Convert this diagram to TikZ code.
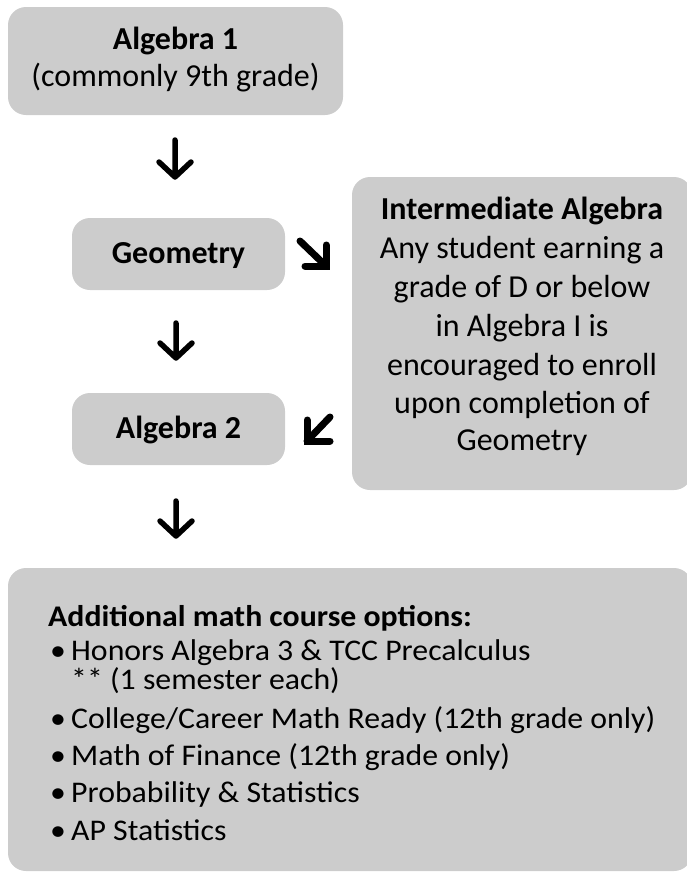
\documentclass[tikz,border=0pt]{standalone}
\usepackage{fontspec}
\setmainfont{Carlito}
\newfontfamily\lstfont[FakeStretch=1.06]{Carlito}
\definecolor{boxgray}{HTML}{CCCCCC}
\newcommand{\blt}{\makebox[21pt][l]{\textbullet}}
\begin{document}
\begin{tikzpicture}[x=1pt,y=-1pt,
  box/.style={fill=boxgray, draw=none, rounded corners=18pt, inner sep=0pt},
  big/.style={inner sep=0pt, anchor=base, font=\fontsize{32}{38}\selectfont},
  bigb/.style={big, font=\fontsize{32}{38}\selectfont\bfseries},
  lst/.style={inner sep=0pt, anchor=base west, align=left, font=\lstfont\fontsize{30}{25}\selectfont},
  lstb/.style={lst, font=\lstfont\fontsize{30}{25}\selectfont\bfseries},
  downarr/.style={line width=5.5pt, line cap=round, line join=round},
  diagarr/.style={line width=7pt, line cap=round, line join=miter}]
\useasboundingbox (0,0) rectangle (687,873);
\clip (0,0) rectangle (687,873);
% boxes
\node[box, minimum width=335pt, minimum height=108pt] (alg1) at (175.5,61) {};
\node[box, minimum width=213pt, minimum height=72pt] (geom) at (178.5,254) {};
\node[box, minimum width=213pt, minimum height=72pt] (alg2) at (178.5,429) {};
\node[box, minimum width=340pt, minimum height=313pt] (inter) at (522,333.5) {};
\node[box, minimum width=684pt, minimum height=303pt] (more) at (350,719.5) {};
% texts
\node[bigb] (t1a) at (175.5,49) {Algebra 1};
\node[big] (t1b) at (175.5,86) {(commonly 9th grade)};
\node[bigb] (tg) at (178.5,263) {Geometry};
\node[bigb] (ta2) at (178.5,438) {Algebra 2};
\node[bigb] (ti1) at (522,219) {Intermediate Algebra};
\node[big] (ti2) at (522,258) {Any student earning a};
\node[big] (ti3) at (522,297) {grade of D or below};
\node[big] (ti4) at (522,336) {in Algebra I is};
\node[big] (ti5) at (522,375) {encouraged to enroll};
\node[big] (ti6) at (522,413) {upon completion of};
\node[big] (ti7) at (522,450) {Geometry};
\node[lstb] (m0) at (48,626) {Additional math course options:};
\node[lst] (m1) at (50,689) {\blt Honors Algebra 3 \& TCC Precalculus\\\phantom{\blt}** (1 semester each)};
\node[lst] (m2) at (50,728) {\blt College/Career Math Ready (12th grade only)};
\node[lst] (m3) at (50,765) {\blt Math of Finance (12th grade only)};
\node[lst] (m4) at (50,802) {\blt Probability \& Statistics};
\node[lst] (m5) at (50,840) {\blt AP Statistics};
% arrows
\coordinate (a1s) at (175,140); \coordinate (a1e) at (175,177);
\draw[downarr] (a1s) -- (a1e) (a1e) -- ++(-16,-15) (a1e) -- ++(16,-15);
\coordinate (a2s) at (176,323); \coordinate (a2e) at (176,358);
\draw[downarr] (a2s) -- (a2e) (a2e) -- ++(-16,-15) (a2e) -- ++(16,-15);
\coordinate (a3s) at (176,501); \coordinate (a3e) at (176,536);
\draw[downarr] (a3s) -- (a3e) (a3e) -- ++(-16,-15) (a3e) -- ++(16,-15);
\coordinate (se1) at (300,241); \coordinate (se2) at (326,266);
\draw[diagarr] (se1) -- (se2);
\draw[diagarr] ([xshift=-21pt]se2) -- (se2) -- ([yshift=21pt]se2);
\coordinate (sw1) at (330,417); \coordinate (sw2) at (307,441);
\draw[diagarr] (sw1) -- (sw2);
\draw[diagarr] ([xshift=23pt]sw2) -- (sw2) -- ([yshift=21pt]sw2);
\end{tikzpicture}
\end{document}
